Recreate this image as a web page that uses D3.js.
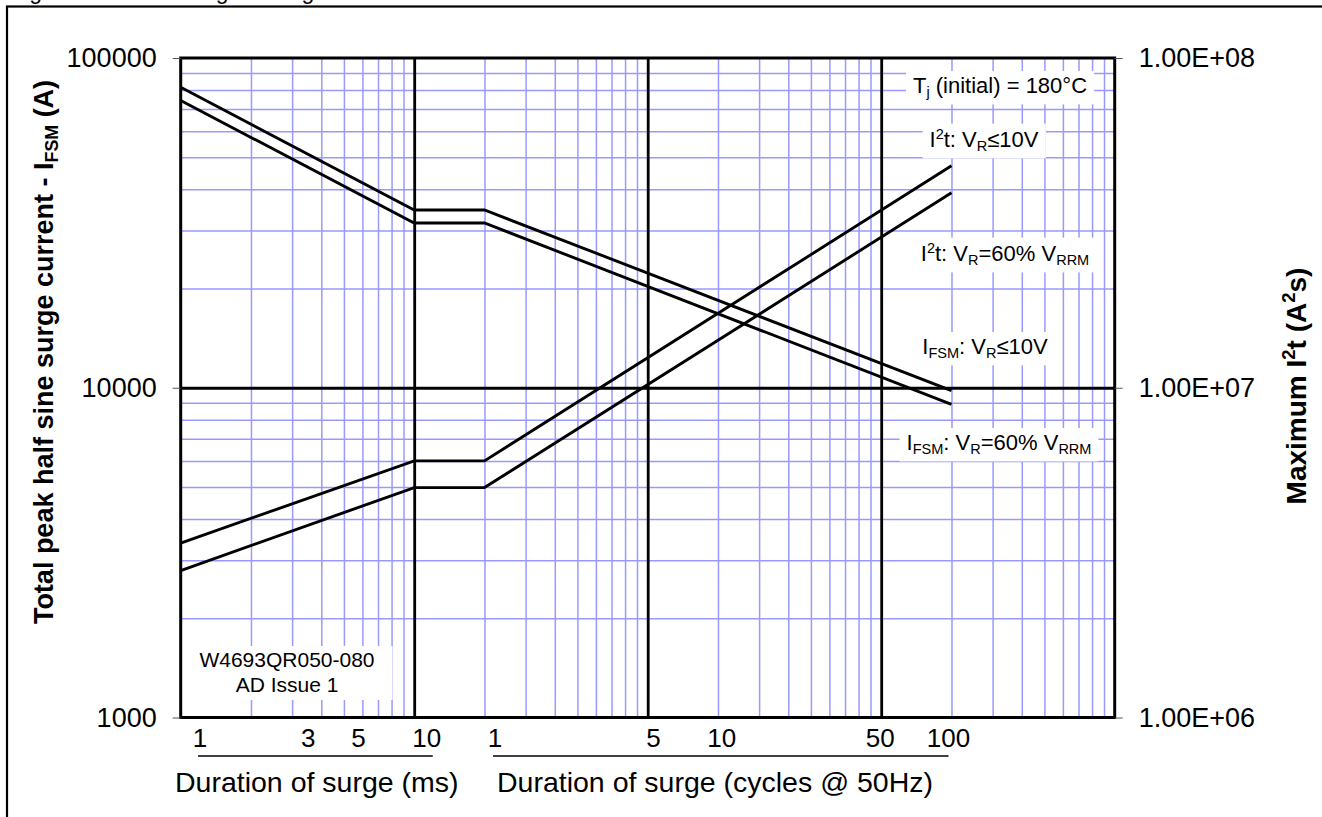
<!DOCTYPE html>
<html>
<head>
<meta charset="utf-8">
<script src="https://cdn.jsdelivr.net/npm/d3@7"></script>
<style>
  body { margin: 0; background: #fff; }
  text { font-family: Arial, "Liberation Sans", sans-serif; fill: #000; }
</style>
</head>
<body>
<div id="container"></div>
<script>

// surge duration in ms at the corners of the curves (1 cycle @ 50Hz = 20 ms)
const durationMs = [1, 10, 20, 2000];

// left axis: peak half sine surge current (A)
const ifsmLowVr = [81500, 34600, 34600, 9800];
const ifsm60 = [74300, 31600, 31600, 8900];

// right axis: I2t (A2s)
const i2tLowVr = [3.38e6, 6.0e6, 6.0e6, 4.71e7];
const i2t60 = [2.79e6, 4.98e6, 4.98e6, 3.90e7];

const msTicks = [1, 3, 5, 10];
const cycleTicks = [1, 5, 10, 50, 100];
const msPerCycle = 20;
const leftTicks = [1000, 10000, 100000];
const rightTicks = [1e6, 1e7, 1e8];

const width = 1322, height = 817;
const plot = { left: 180.7, right: 1114.7, top: 58, bottom: 717.5 };
const plotW = plot.right - plot.left;
const plotH = plot.bottom - plot.top;

const svg = d3.select('#container')
  .append('svg')
  .attr('width', width)
  .attr('height', height);

svg.append('rect').attr('width', width).attr('height', height).attr('fill', '#fff');

// outer frame of the figure
svg.append('rect')
  .attr('x', 7).attr('y', 6.5)
  .attr('width', 1340).attr('height', 840)
  .attr('fill', 'none').attr('stroke', '#000').attr('stroke-width', 2.2);

// figure caption, cropped by the top edge
svg.append('text')
  .attr('x', 10).attr('y', -1)
  .style('font-size', '23px')
  .text('Fig. 8 Maximum Surge Rating');

const x = d3.scaleLog().domain([1, 10000]).range([plot.left, plot.right]);
const xLabel = d3.scaleLog().domain([1, 10000]).range([200, 1107]);
const yLeft = d3.scaleLog().domain([1000, 100000]).range([plot.bottom, plot.top]);
const yRight = d3.scaleLog().domain([1e6, 1e8]).range([plot.bottom, plot.top]);

const isDecade = d => Math.abs(Math.log10(d) - Math.round(Math.log10(d))) < 1e-9;
const minorX = x.ticks().filter(d => !isDecade(d));
const majorX = x.ticks().filter(d => isDecade(d) && d > 1 && d < 10000);
const minorY = yLeft.ticks().filter(d => !isDecade(d));
const majorY = yLeft.ticks().filter(d => isDecade(d) && d > 1000 && d < 100000);

function styleGrid(g, color, w) {
  g.select('.domain').remove();
  g.selectAll('line').attr('stroke', color).attr('stroke-width', w);
}

// minor grid
svg.append('g')
  .attr('transform', `translate(0,${plot.bottom})`)
  .call(d3.axisBottom(x).tickValues(minorX).tickSize(-plotH).tickFormat(''))
  .call(g => styleGrid(g, '#9999ff', 1.5));
svg.append('g')
  .attr('transform', `translate(${plot.left},0)`)
  .call(d3.axisLeft(yLeft).tickValues(minorY).tickSize(-plotW).tickFormat(''))
  .call(g => styleGrid(g, '#9999ff', 1.5));

// labels on white boxes
const annotations = [
  { cx: 1000, y: 93, parts: [['T'], ['j', 'sub'], [' (initial) = 180°C']] },
  { cx: 984, y: 147, parts: [['I'], ['2', 'sup'], ['t: V'], ['R', 'sub'], ['≤10V']] },
  { cx: 1005, y: 261, parts: [['I'], ['2', 'sup'], ['t: V'], ['R', 'sub'], ['=60% V'], ['RRM', 'sub']] },
  { cx: 985, y: 354, parts: [['I'], ['FSM', 'sub'], [': V'], ['R', 'sub'], ['≤10V']] },
  { cx: 999, y: 450, parts: [['I'], ['FSM', 'sub'], [': V'], ['R', 'sub'], ['=60% V'], ['RRM', 'sub']] }
];

function addRich(parent, parts, size, bold) {
  const t = parent.append('text')
    .style('font-size', size + 'px')
    .style('font-weight', bold ? 'bold' : 'normal');
  let shift = 0;
  parts.forEach(p => {
    let want = 0;
    if (p[1] === 'sub') want = size * 0.2;
    if (p[1] === 'sup') want = -size * 0.38;
    const ts = t.append('tspan').text(p[0]).attr('dy', want - shift);
    if (p[1]) ts.style('font-size', (size * 0.66) + 'px');
    shift = want;
  });
  return t;
}

annotations.forEach(a => {
  const g = svg.append('g');
  const box = g.append('rect').attr('fill', '#fff');
  const t = addRich(g, a.parts, 22, false)
    .attr('x', a.cx).attr('y', a.y).attr('text-anchor', 'middle');
  const bb = t.node().getBBox();
  box.attr('x', bb.x - 7).attr('y', bb.y - 2)
    .attr('width', bb.width + 14).attr('height', bb.height + 6);
});

// part number note
const note = svg.append('g');
const noteBox = note.append('rect').attr('fill', '#fff');
const noteText = note.append('text')
  .attr('text-anchor', 'middle')
  .style('font-size', '21px');
noteText.append('tspan').attr('x', 287).attr('y', 667).text('W4693QR050-080');
noteText.append('tspan').attr('x', 287).attr('y', 692).text('AD Issue 1');
const nb = noteText.node().getBBox();
noteBox.attr('x', nb.x - 18).attr('y', nb.y - 2).attr('width', nb.width + 36).attr('height', nb.height + 6);

// major grid
svg.append('g')
  .attr('transform', `translate(0,${plot.bottom})`)
  .call(d3.axisBottom(x).tickValues(majorX).tickSize(-plotH).tickFormat(''))
  .call(g => styleGrid(g, '#000', 2.8));
svg.append('g')
  .attr('transform', `translate(${plot.left},0)`)
  .call(d3.axisLeft(yLeft).tickValues(majorY).tickSize(-plotW).tickFormat(''))
  .call(g => styleGrid(g, '#000', 2.8));

// curves
const lineLeft = d3.line().x(d => x(d[0])).y(d => yLeft(d[1]));
const lineRight = d3.line().x(d => x(d[0])).y(d => yRight(d[1]));

[ifsmLowVr, ifsm60].forEach(vals => {
  svg.append('path')
    .datum(d3.zip(durationMs, vals))
    .attr('fill', 'none').attr('stroke', '#000').attr('stroke-width', 2.9)
    .attr('d', lineLeft);
});
[i2tLowVr, i2t60].forEach(vals => {
  svg.append('path')
    .datum(d3.zip(durationMs, vals))
    .attr('fill', 'none').attr('stroke', '#000').attr('stroke-width', 2.9)
    .attr('d', lineRight);
});

// plot border
svg.append('rect')
  .attr('x', plot.left).attr('y', plot.top)
  .attr('width', plotW).attr('height', plotH)
  .attr('fill', 'none').attr('stroke', '#000').attr('stroke-width', 3);

// y axes
const fmtExp = d => {
  const [m, e] = d.toExponential(2).split('e');
  return m + 'E' + e[0] + e.slice(1).padStart(2, '0');
};
svg.append('g')
  .attr('transform', `translate(${plot.left},0)`)
  .call(d3.axisLeft(yLeft).tickValues(leftTicks).tickSize(8).tickPadding(16).tickFormat(d3.format('d')))
  .call(g => {
    g.select('.domain').remove();
    g.selectAll('line').attr('stroke', '#555');
    g.selectAll('text').style('font-size', '27px').attr('font-family', null);
  });
svg.append('g')
  .attr('transform', `translate(${plot.right},0)`)
  .call(d3.axisRight(yRight).tickValues(rightTicks).tickSize(8).tickPadding(16).tickFormat(fmtExp))
  .call(g => {
    g.select('.domain').remove();
    g.selectAll('line').attr('stroke', '#555');
    g.selectAll('text').style('font-size', '27px').attr('font-family', null);
  });

// x labels: two groups, ms and cycles
svg.selectAll('.ms-label')
  .data(msTicks)
  .enter().append('text')
  .attr('class', 'ms-label')
  .attr('x', d => xLabel(d)).attr('y', 747)
  .attr('text-anchor', 'middle')
  .style('font-size', '26px')
  .text(d => d);
svg.selectAll('.cyc-label')
  .data(cycleTicks)
  .enter().append('text')
  .attr('class', 'cyc-label')
  .attr('x', d => xLabel(d * msPerCycle)).attr('y', 747)
  .attr('text-anchor', 'middle')
  .style('font-size', '26px')
  .text(d => d);

svg.append('line')
  .attr('x1', xLabel(msTicks[0]) - 2).attr('x2', xLabel(msTicks[msTicks.length - 1]) + 6)
  .attr('y1', 756).attr('y2', 756)
  .attr('stroke', '#000').attr('stroke-width', 1.3);
svg.append('line')
  .attr('x1', xLabel(cycleTicks[0] * msPerCycle) - 2)
  .attr('x2', xLabel(cycleTicks[cycleTicks.length - 1] * msPerCycle))
  .attr('y1', 756).attr('y2', 756)
  .attr('stroke', '#000').attr('stroke-width', 1.3);

svg.append('text')
  .attr('x', 175).attr('y', 792)
  .style('font-size', '28.5px')
  .text('Duration of surge (ms)');
svg.append('text')
  .attr('x', 497).attr('y', 792)
  .style('font-size', '28.5px')
  .text('Duration of surge (cycles @ 50Hz)');

// axis titles
addRich(svg, [['Total peak half sine surge current - I'], ['FSM', 'sub'], [' (A)']], 27, true)
  .attr('text-anchor', 'middle')
  .attr('transform', 'translate(53,352) rotate(-90)');
addRich(svg, [['Maximum I'], ['2', 'sup'], ['t (A'], ['2', 'sup'], ['s)']], 28, true)
  .attr('text-anchor', 'middle')
  .attr('transform', 'translate(1306,386) rotate(-90)');

</script>
</body>
</html>
